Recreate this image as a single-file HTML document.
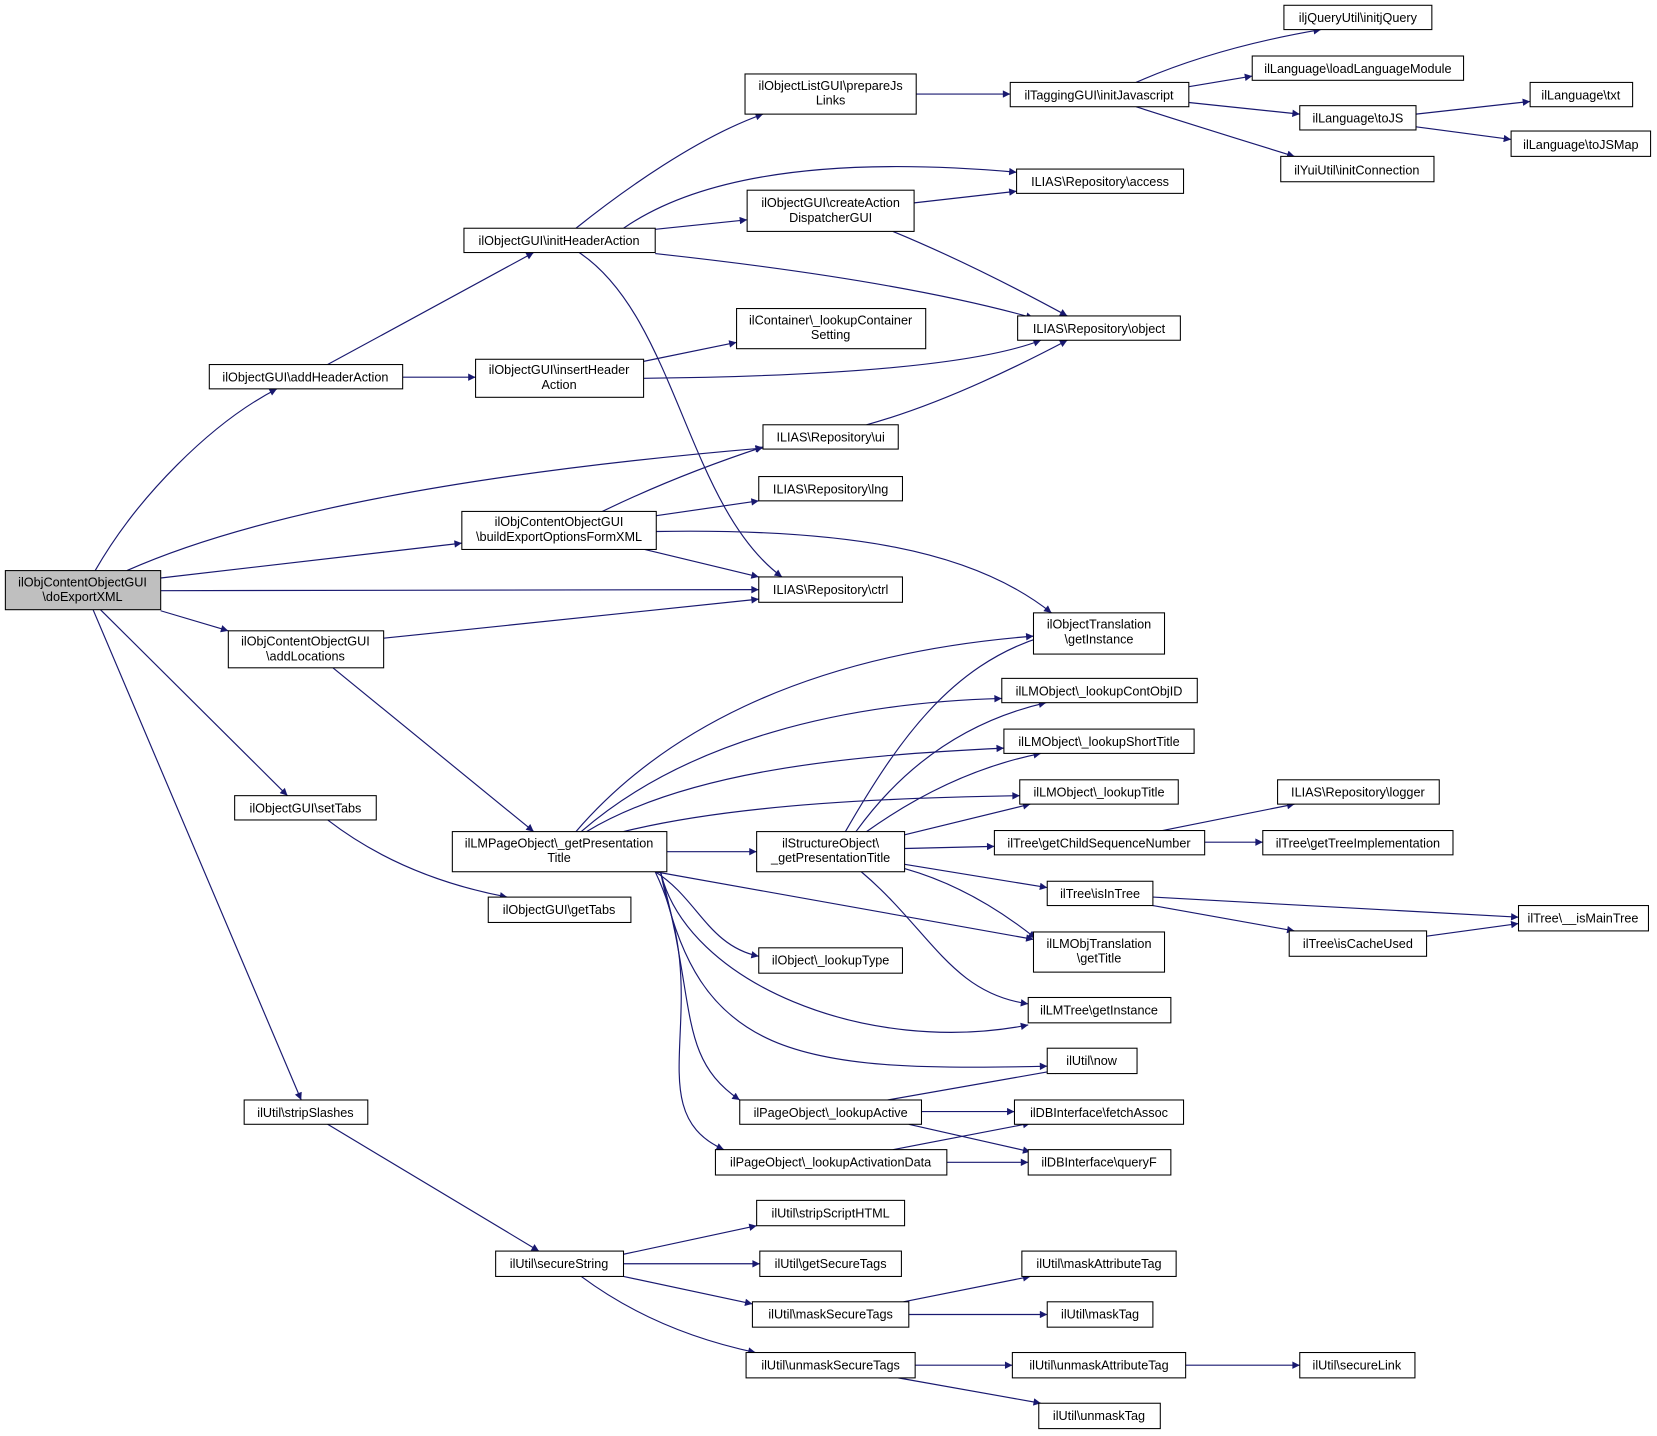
<!DOCTYPE html>
<html><head><meta charset="utf-8"><style>html,body{margin:0;padding:0;background:#fff}svg{display:block}</style></head>
<body>
<svg width="1657" height="1436" viewBox="0 0 1568 1359" xmlns="http://www.w3.org/2000/svg">
<defs><marker id="a" viewBox="0 0 10 10" refX="10" refY="5" markerWidth="10" markerHeight="7" markerUnits="userSpaceOnUse" orient="auto"><path d="M0,0L10,5L0,10z" fill="#191970"/></marker></defs>
<g fill="none" stroke="#191970" stroke-width="1.1" marker-end="url(#a)">
<path d="M90,540C130,470 200,400 262,368"/>
<path d="M120,540Q300,460 722,424"/>
<path d="M152,547L437,514"/>
<path d="M152,559L718,558"/>
<path d="M152,578L216,597"/>
<path d="M95,577L272,753"/>
<path d="M88,577L285,1041"/>
<path d="M310,345L505,239"/>
<path d="M381,357L450,357"/>
<path d="M545,216C590,180 660,130 722,108"/>
<path d="M590,216Q700,140 962,163"/>
<path d="M620,217L707,208"/>
<path d="M620,240Q850,265 978,301"/>
<path d="M548,239C640,300 650,480 740,546"/>
<path d="M867,89L956,89"/>
<path d="M1075,78Q1150,45 1250,28"/>
<path d="M1125,82L1185,72"/>
<path d="M1125,97L1230,108"/>
<path d="M1075,101Q1150,125 1225,148"/>
<path d="M1340,108L1448,96"/>
<path d="M1340,120L1430,132"/>
<path d="M865,192L962,181"/>
<path d="M845,219Q920,250 1010,299"/>
<path d="M609,342L697,324"/>
<path d="M609,358Q900,355 985,322"/>
<path d="M820,402Q900,380 1010,322"/>
<path d="M570,484Q640,450 722,423"/>
<path d="M621,488L718,474"/>
<path d="M610,520L718,546"/>
<path d="M621,503C800,500 920,520 995,580"/>
<path d="M363,604L718,567"/>
<path d="M315,632L505,787"/>
<path d="M310,776Q380,830 480,849"/>
<path d="M310,1064L510,1184"/>
<path d="M545,787C620,700 750,620 978,602"/>
<path d="M550,787C650,700 800,665 948,661"/>
<path d="M555,787C650,730 800,715 950,708"/>
<path d="M590,787C700,760 850,755 965,753"/>
<path d="M631,806L716,806"/>
<path d="M620,825L978,889"/>
<path d="M620,825C660,850 670,895 718,905"/>
<path d="M625,825C650,930 820,1000 973,970"/>
<path d="M625,825C660,1000 750,1015 991,1009"/>
<path d="M625,825C660,950 640,1000 700,1041"/>
<path d="M620,825C680,950 600,1050 685,1088"/>
<path d="M800,787C850,700 900,630 985,603"/>
<path d="M810,787Q880,690 990,665"/>
<path d="M820,787Q900,730 985,713"/>
<path d="M856,790L975,761"/>
<path d="M856,803L941,801"/>
<path d="M856,818L991,840"/>
<path d="M856,822Q920,840 980,888"/>
<path d="M815,825C880,880 900,940 973,950"/>
<path d="M1100,786L1225,761"/>
<path d="M1140,797L1195,797"/>
<path d="M1091,849L1437,868"/>
<path d="M1091,857L1225,881"/>
<path d="M1350,886L1437,874"/>
<path d="M840,1041L1005,1012"/>
<path d="M872,1052L960,1052"/>
<path d="M860,1064L975,1090"/>
<path d="M845,1088L975,1063"/>
<path d="M896,1100L973,1100"/>
<path d="M590,1187L716,1160"/>
<path d="M590,1196L719,1196"/>
<path d="M590,1208L712,1234"/>
<path d="M550,1208Q620,1260 715,1280"/>
<path d="M855,1232L975,1208"/>
<path d="M860,1244L991,1244"/>
<path d="M866,1292L958,1292"/>
<path d="M850,1304L985,1328"/>
<path d="M1122,1292L1230,1292"/>
</g>
<g stroke="#000" stroke-width="1" fill="#fff">
<rect x="5" y="540" width="147" height="37" fill="#bfbfbf"/>
<rect x="198" y="345" width="183" height="23"/>
<rect x="439" y="216" width="181" height="23"/>
<rect x="705" y="70" width="162" height="38"/>
<rect x="956" y="78" width="169" height="23"/>
<rect x="1215" y="5" width="140" height="23"/>
<rect x="1185" y="53" width="200" height="23"/>
<rect x="1230" y="100" width="110" height="23"/>
<rect x="1448" y="78" width="97" height="23"/>
<rect x="1430" y="124" width="132" height="24"/>
<rect x="1212" y="148" width="145" height="24"/>
<rect x="962" y="160" width="158" height="23"/>
<rect x="707" y="180" width="158" height="39"/>
<rect x="963" y="299" width="154" height="23"/>
<rect x="697" y="292" width="179" height="38"/>
<rect x="450" y="340" width="159" height="36"/>
<rect x="722" y="402" width="128" height="23"/>
<rect x="718" y="451" width="136" height="23"/>
<rect x="437" y="484" width="184" height="36"/>
<rect x="718" y="546" width="136" height="24"/>
<rect x="216" y="597" width="147" height="35"/>
<rect x="978" y="580" width="124" height="39"/>
<rect x="948" y="642" width="185" height="23"/>
<rect x="950" y="690" width="180" height="23"/>
<rect x="965" y="738" width="150" height="23"/>
<rect x="1209" y="738" width="153" height="23"/>
<rect x="941" y="786" width="199" height="23"/>
<rect x="1195" y="786" width="180" height="23"/>
<rect x="222" y="753" width="134" height="23"/>
<rect x="428" y="787" width="203" height="38"/>
<rect x="716" y="787" width="140" height="38"/>
<rect x="991" y="834" width="100" height="23"/>
<rect x="462" y="849" width="135" height="24"/>
<rect x="1437" y="857" width="123" height="24"/>
<rect x="1220" y="881" width="130" height="24"/>
<rect x="978" y="882" width="124" height="38"/>
<rect x="718" y="897" width="136" height="24"/>
<rect x="973" y="944" width="135" height="24"/>
<rect x="991" y="992" width="85" height="24"/>
<rect x="700" y="1041" width="172" height="23"/>
<rect x="960" y="1041" width="160" height="23"/>
<rect x="677" y="1088" width="219" height="24"/>
<rect x="973" y="1088" width="135" height="24"/>
<rect x="231" y="1041" width="117" height="23"/>
<rect x="469" y="1184" width="121" height="24"/>
<rect x="716" y="1136" width="140" height="24"/>
<rect x="719" y="1184" width="134" height="24"/>
<rect x="967" y="1184" width="146" height="24"/>
<rect x="712" y="1232" width="148" height="24"/>
<rect x="991" y="1232" width="100" height="24"/>
<rect x="706" y="1280" width="160" height="24"/>
<rect x="958" y="1280" width="164" height="24"/>
<rect x="1230" y="1280" width="109" height="24"/>
<rect x="983" y="1328" width="115" height="24"/>
</g>
<g font-family="Liberation Sans, sans-serif" font-size="12" text-anchor="middle" fill="#000">
<text x="78" y="555">ilObjContentObjectGUI</text><text x="78" y="569">\doExportXML</text>
<text x="289" y="361">ilObjectGUI\addHeaderAction</text>
<text x="529" y="232">ilObjectGUI\initHeaderAction</text>
<text x="786" y="85">ilObjectListGUI\prepareJs</text><text x="786" y="99">Links</text>
<text x="1040" y="94">ilTaggingGUI\initJavascript</text>
<text x="1285" y="21">iljQueryUtil\initjQuery</text>
<text x="1285" y="69">ilLanguage\loadLanguageModule</text>
<text x="1285" y="116">ilLanguage\toJS</text>
<text x="1496" y="94">ilLanguage\txt</text>
<text x="1496" y="141">ilLanguage\toJSMap</text>
<text x="1284" y="165">ilYuiUtil\initConnection</text>
<text x="1041" y="176">ILIAS\Repository\access</text>
<text x="786" y="196">ilObjectGUI\createAction</text><text x="786" y="210">DispatcherGUI</text>
<text x="1040" y="315">ILIAS\Repository\object</text>
<text x="786" y="307">ilContainer\_lookupContainer</text><text x="786" y="321">Setting</text>
<text x="529" y="354">ilObjectGUI\insertHeader</text><text x="529" y="368">Action</text>
<text x="786" y="418">ILIAS\Repository\ui</text>
<text x="786" y="467">ILIAS\Repository\lng</text>
<text x="529" y="498">ilObjContentObjectGUI</text><text x="529" y="512">\buildExportOptionsFormXML</text>
<text x="786" y="562">ILIAS\Repository\ctrl</text>
<text x="289" y="611">ilObjContentObjectGUI</text><text x="289" y="625">\addLocations</text>
<text x="1040" y="595">ilObjectTranslation</text><text x="1040" y="609">\getInstance</text>
<text x="1040" y="658">ilLMObject\_lookupContObjID</text>
<text x="1040" y="706">ilLMObject\_lookupShortTitle</text>
<text x="1040" y="754">ilLMObject\_lookupTitle</text>
<text x="1285" y="754">ILIAS\Repository\logger</text>
<text x="1040" y="802">ilTree\getChildSequenceNumber</text>
<text x="1285" y="802">ilTree\getTreeImplementation</text>
<text x="289" y="769">ilObjectGUI\setTabs</text>
<text x="529" y="802">ilLMPageObject\_getPresentation</text><text x="529" y="816">Title</text>
<text x="786" y="802">ilStructureObject\</text><text x="786" y="816">_getPresentationTitle</text>
<text x="1041" y="850">ilTree\isInTree</text>
<text x="529" y="865">ilObjectGUI\getTabs</text>
<text x="1498" y="873">ilTree\__isMainTree</text>
<text x="1285" y="897">ilTree\isCacheUsed</text>
<text x="1040" y="897">ilLMObjTranslation</text><text x="1040" y="911">\getTitle</text>
<text x="786" y="913">ilObject\_lookupType</text>
<text x="1040" y="960">ilLMTree\getInstance</text>
<text x="1033" y="1008">ilUtil\now</text>
<text x="786" y="1057">ilPageObject\_lookupActive</text>
<text x="1040" y="1057">ilDBInterface\fetchAssoc</text>
<text x="786" y="1104">ilPageObject\_lookupActivationData</text>
<text x="1040" y="1104">ilDBInterface\queryF</text>
<text x="289" y="1057">ilUtil\stripSlashes</text>
<text x="529" y="1200">ilUtil\secureString</text>
<text x="786" y="1152">ilUtil\stripScriptHTML</text>
<text x="786" y="1200">ilUtil\getSecureTags</text>
<text x="1040" y="1200">ilUtil\maskAttributeTag</text>
<text x="786" y="1248">ilUtil\maskSecureTags</text>
<text x="1041" y="1248">ilUtil\maskTag</text>
<text x="786" y="1296">ilUtil\unmaskSecureTags</text>
<text x="1040" y="1296">ilUtil\unmaskAttributeTag</text>
<text x="1284" y="1296">ilUtil\secureLink</text>
<text x="1040" y="1344">ilUtil\unmaskTag</text>
</g>
</svg>
</body></html>
